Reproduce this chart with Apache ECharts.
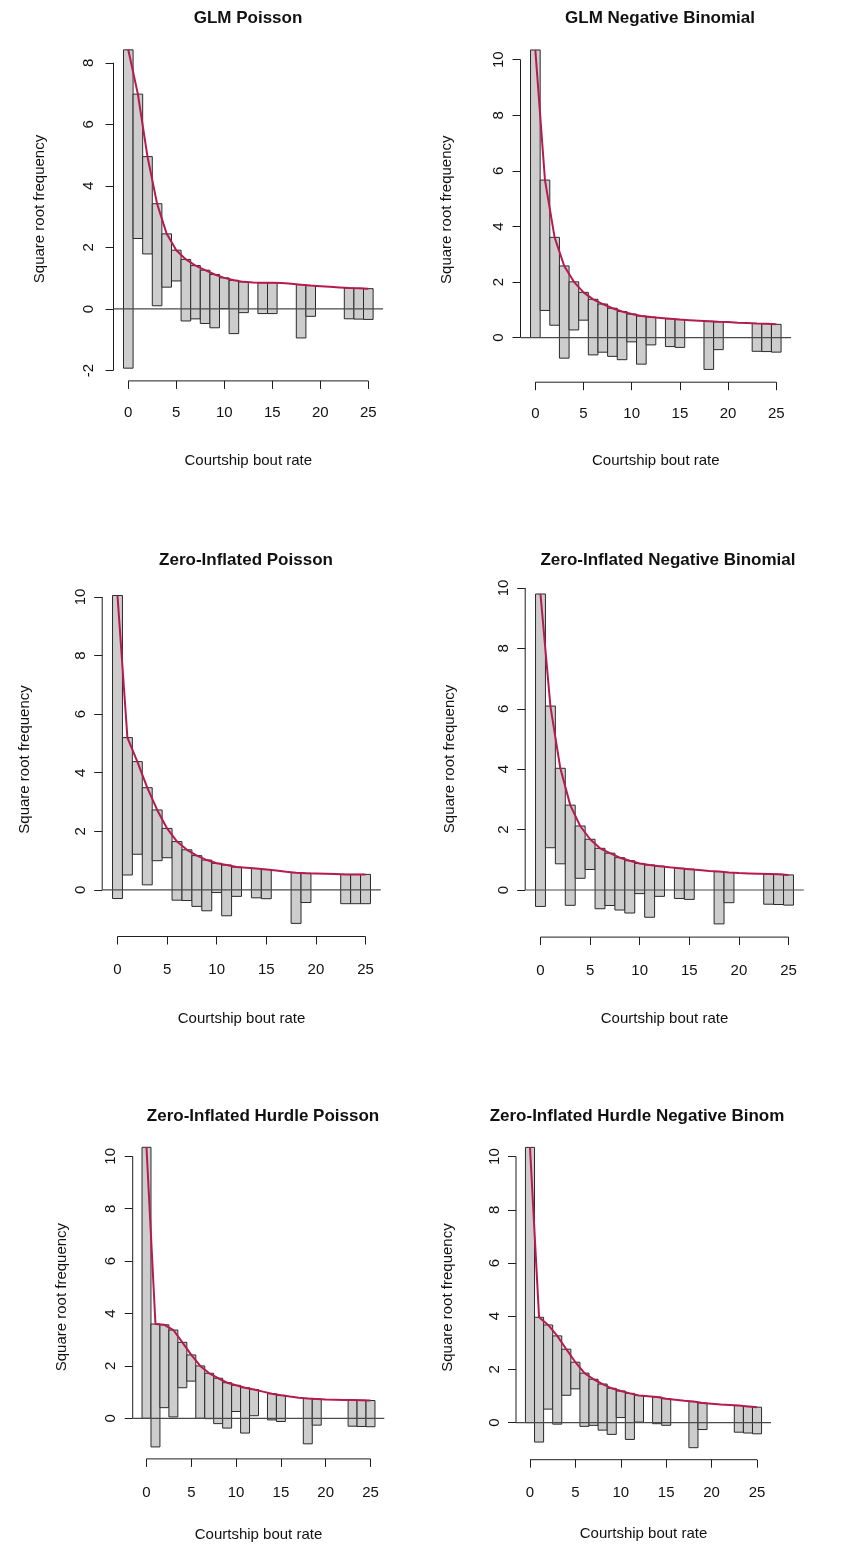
<!DOCTYPE html>
<html>
<head>
<meta charset="utf-8">
<script src="https://cdn.jsdelivr.net/npm/echarts@6/dist/echarts.min.js"></script>
<style>
  html, body { margin: 0; padding: 0; background: #ffffff; }
  #chart { width: 844px; height: 1548px; }
</style>
</head>
<body>
<div id="chart"></div>
<script>
// Courtship bout rate (count values on the x axis)
const counts = [0,1,2,3,4,5,6,7,8,9,10,11,12,13,14,15,16,17,18,19,20,21,22,23,24,25];

// Observed frequency of each count
const observed = [107,22,10,11,3,1,4,3,3,3,1,3,1,0,1,1,0,0,3,1,0,0,0,1,1,1];

// Square root of the expected frequency under each fitted model
const fitGlmPoisson = [8.42,6.98,4.95,3.42,2.44,1.91,1.61,1.41,1.26,1.12,1.01,0.93,0.88,0.86,0.85,0.85,0.84,0.82,0.79,0.76,0.74,0.72,0.70,0.68,0.67,0.66];
const fitGlmNegBin = [10.35,5.67,3.61,2.58,2.01,1.63,1.38,1.21,1.06,0.94,0.85,0.78,0.74,0.71,0.68,0.65,0.63,0.61,0.59,0.57,0.56,0.54,0.53,0.51,0.50,0.48];
const fitZiPoisson = [10.05,5.20,4.38,3.49,2.73,2.10,1.65,1.37,1.17,1.02,0.91,0.85,0.78,0.76,0.73,0.70,0.66,0.62,0.59,0.57,0.56,0.55,0.54,0.53,0.53,0.53];
const fitZiNegBin = [9.80,6.09,4.03,2.81,2.12,1.68,1.38,1.22,1.07,0.97,0.88,0.83,0.79,0.75,0.72,0.69,0.66,0.63,0.61,0.58,0.56,0.55,0.54,0.53,0.52,0.50];
const fitHurdlePoisson = [10.344,3.60,3.57,3.37,2.90,2.42,2.00,1.72,1.53,1.36,1.26,1.17,1.10,1.02,0.94,0.88,0.83,0.79,0.76,0.74,0.72,0.71,0.70,0.70,0.69,0.68];
const fitHurdleNegBin = [10.344,3.96,3.67,3.26,2.76,2.27,1.86,1.63,1.45,1.29,1.19,1.10,1.02,0.99,0.96,0.90,0.86,0.82,0.79,0.74,0.71,0.68,0.66,0.64,0.61,0.58];

// Panel titles
const panelTitles = [
  'GLM Poisson',
  'GLM Negative Binomial',
  'Zero-Inflated Poisson',
  'Zero-Inflated Negative Binomial',
  'Zero-Inflated Hurdle Poisson',
  'Zero-Inflated Hurdle Negative Binom'
];

// Tick labels
const xTicks = [0,5,10,15,20,25];
const yTicksGlmPoisson = [-2,0,2,4,6,8];
const yTicksDefault = [0,2,4,6,8,10];

const xTitle = 'Courtship bout rate';
const yTitle = 'Square root frequency';

const fits = [fitGlmPoisson, fitGlmNegBin, fitZiPoisson, fitZiNegBin, fitHurdlePoisson, fitHurdleNegBin];
const yTickSets = [yTicksGlmPoisson, yTicksDefault, yTicksDefault, yTicksDefault, yTicksDefault, yTicksDefault];

// Plot-region boxes and text placement for the 3 x 2 arrangement
const layout = [
  { grid: { left: 113.5, top: 37.1, width: 269.6, height: 343.8 }, titleX: 243, titleY: 5,    yLabelGap: 17, xLabelGap: 24, yNameGap: 66, xNameGap: 72 },
  { grid: { left: 520.5, top: 37.2, width: 270.6, height: 345.0 }, titleX: 655, titleY: 5,    yLabelGap: 14, xLabelGap: 24, yNameGap: 66, xNameGap: 71 },
  { grid: { left: 102.2, top: 582.4, width: 278.6, height: 354.1 }, titleX: 241, titleY: 547,  yLabelGap: 14, xLabelGap: 26, yNameGap: 70, xNameGap: 75 },
  { grid: { left: 525.2, top: 580.8, width: 278.6, height: 356.3 }, titleX: 663, titleY: 547,  yLabelGap: 14, xLabelGap: 26, yNameGap: 68, xNameGap: 74 },
  { grid: { left: 132.7, top: 1135.3, width: 251.6, height: 323.6 }, titleX: 258, titleY: 1103, yLabelGap: 14, xLabelGap: 26, yNameGap: 63, xNameGap: 68 },
  { grid: { left: 516.0, top: 1135.4, width: 255.0, height: 324.3 }, titleX: 632, titleY: 1103, yLabelGap: 14, xLabelGap: 26, yNameGap: 61, xNameGap: 67 }
];

const FONT = '"Liberation Sans", Arial, Helvetica, sans-serif';
const CURVE = '#B61A51';
const AXIS = '#1e1e1e';

// x range: bar edges extended by 4 % on each side
const xLo = counts[0] - 0.5, xHi = counts[counts.length - 1] + 0.5;
const xPad = (xHi - xLo) * 0.04;
const xMin = xLo - xPad, xMax = xHi + xPad;

const grids = [], xAxes = [], yAxes = [], series = [], titles = [];

fits.forEach((fit, i) => {
  const L = layout[i];
  const yTicks = yTickSets[i];

  // hanging bars: each bar hangs from the fitted curve by sqrt(observed)
  const bars = [];
  counts.forEach((c, k) => {
    if (observed[k] > 0) {
      bars.push([c, fit[k], fit[k] - Math.sqrt(observed[k])]);
    }
  });
  const allY = bars.map(b => b[2]).concat(fit, [0]);
  const lo = Math.min(...allY), hi = Math.max(...allY);
  const yPad = (hi - lo) * 0.04;
  const yMin = lo - yPad, yMax = hi + yPad;

  grids.push(Object.assign({ containLabel: false }, L.grid));

  xAxes.push({
    gridIndex: i, type: 'value', min: xMin, max: xMax,
    axisLine: { show: false, onZero: false },
    splitLine: { show: false },
    axisTick: { show: true, customValues: xTicks, length: 8, lineStyle: { color: AXIS, width: 1 } },
    axisLabel: { show: true, customValues: xTicks, margin: L.xLabelGap, color: '#111', fontFamily: FONT, fontSize: 15 },
    name: xTitle, nameLocation: 'middle', nameGap: L.xNameGap,
    nameTextStyle: { color: '#111', fontFamily: FONT, fontSize: 15 }
  });

  yAxes.push({
    gridIndex: i, type: 'value', min: yMin, max: yMax,
    axisLine: { show: false, onZero: false },
    splitLine: { show: false },
    axisTick: { show: true, customValues: yTicks, length: 8, lineStyle: { color: AXIS, width: 1 } },
    axisLabel: { show: true, customValues: yTicks, rotate: 90, margin: L.yLabelGap, color: '#111', fontFamily: FONT, fontSize: 15 },
    name: yTitle, nameLocation: 'middle', nameGap: L.yNameGap, nameRotate: 90,
    nameTextStyle: { color: '#111', fontFamily: FONT, fontSize: 15 }
  });

  titles.push({
    text: panelTitles[i], left: L.titleX, top: L.titleY, textAlign: 'center',
    textStyle: { fontFamily: FONT, fontWeight: 'bold', fontSize: 17, color: '#111' }
  });

  // bars
  series.push({
    type: 'custom', xAxisIndex: i, yAxisIndex: i, silent: true, clip: false, z: 2,
    encode: { x: 0, y: [1, 2] },
    data: bars,
    renderItem: (params, api) => {
      const x = api.value(0), top = api.value(1), bottom = api.value(2);
      const p1 = api.coord([x - 0.5, top]);
      const p2 = api.coord([x + 0.5, bottom]);
      return {
        type: 'rect',
        shape: { x: p1[0], y: p1[1], width: p2[0] - p1[0], height: p2[1] - p1[1] },
        style: { fill: '#cdcdcd', stroke: '#2a2a2a', lineWidth: 1 }
      };
    }
  });

  // reference line at zero across the plot region
  series.push({
    type: 'line', xAxisIndex: i, yAxisIndex: i, silent: true, clip: false, z: 3,
    data: [[xMin, 0], [xMax, 0]], symbol: 'none',
    lineStyle: { color: '#4a4a4a', width: 1.2 }
  });

  // fitted curve
  series.push({
    type: 'line', xAxisIndex: i, yAxisIndex: i, silent: true, clip: false, z: 4,
    data: counts.map((c, k) => [c, fit[k]]), symbol: 'none', smooth: false,
    lineStyle: { color: CURVE, width: 2 }
  });

  // axis lines spanning the tick range
  series.push({
    type: 'line', xAxisIndex: i, yAxisIndex: i, silent: true, clip: false, z: 1,
    data: [[xTicks[0], yMin], [xTicks[xTicks.length - 1], yMin]], symbol: 'none',
    lineStyle: { color: AXIS, width: 1 }
  });
  series.push({
    type: 'line', xAxisIndex: i, yAxisIndex: i, silent: true, clip: false, z: 1,
    data: [[xMin, yTicks[0]], [xMin, yTicks[yTicks.length - 1]]], symbol: 'none',
    lineStyle: { color: AXIS, width: 1 }
  });
});

const chart = echarts.init(document.getElementById('chart'), null, { renderer: 'canvas' });
chart.setOption({
  animation: false,
  backgroundColor: '#ffffff',
  title: titles,
  grid: grids,
  xAxis: xAxes,
  yAxis: yAxes,
  series: series
});
</script>
</body>
</html>
